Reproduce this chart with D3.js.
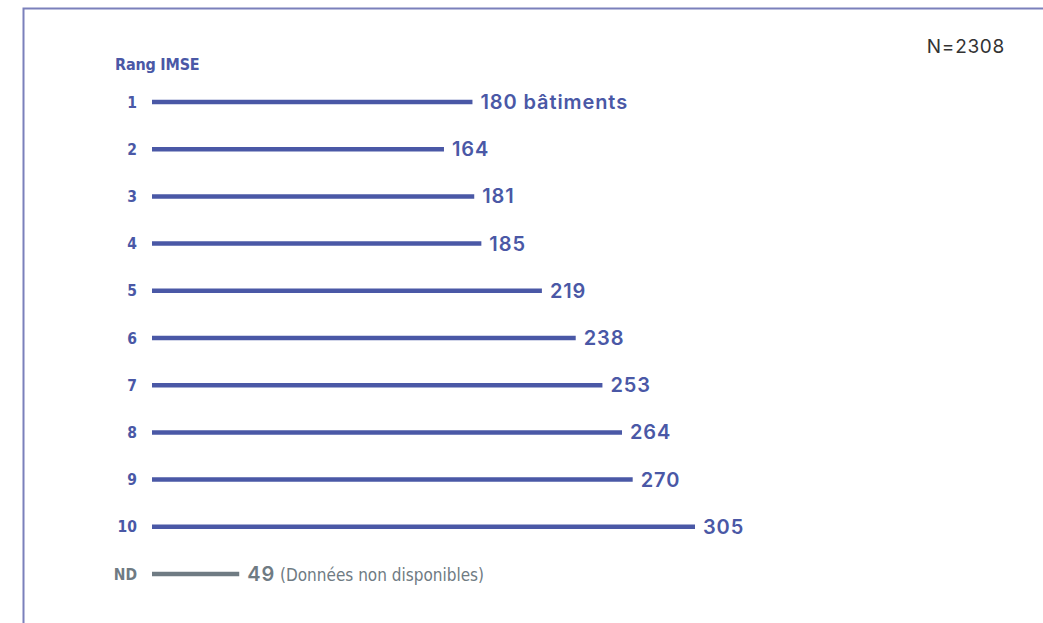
<!DOCTYPE html>
<html><head><meta charset="utf-8">
<script src="https://cdn.jsdelivr.net/npm/d3@7"></script>
<style>body{margin:0;background:#fff;}</style>
</head><body>
<svg id="c" width="1043" height="623"></svg>
<script>
const categories = ["1","2","3","4","5","6","7","8","9","10","ND"];
const values = [180,164,181,185,219,238,253,264,270,305,49];
const valueLabels = ["180 bâtiments","164","181","185","219","238","253","264","270","305","49"];
const totalLabel = "N=2308";
const axisTitle = "Rang IMSE";
const ndNote = "(Données non disponibles)";

const svg = d3.select("#c");
const blue = "#4a58a6", gray = "#6f7b83";
const cond = "'DejaVu Sans Condensed','Liberation Sans Narrow',sans-serif";

// frame
svg.append("path").attr("d","M23.5,623 V8.5 H1043").attr("fill","none").attr("stroke","#7b80bb").attr("stroke-width",2);

const x = d3.scaleLinear().domain([0,305]).range([152,695]);
const y = d3.scalePoint().domain(categories).range([102,574]);

svg.append("text").attr("x",115).attr("y",70).text(axisTitle)
  .attr("font-family",cond).attr("font-weight","bold").attr("font-size",16).attr("fill",blue).attr("letter-spacing",-0.2);
svg.append("text").attr("x",1005).attr("y",53).attr("text-anchor","end").text(totalLabel)
  .attr("font-family","Inter, sans-serif").attr("font-size",19).attr("letter-spacing",0.7).attr("fill","#333");

const g = svg.selectAll("g.row").data(categories).join("g").attr("class","row");
g.append("line").attr("x1",x(0)).attr("x2",(d,i)=>x(values[i]))
  .attr("y1",d=>y(d)).attr("y2",d=>y(d))
  .attr("stroke",(d)=>d==="ND"?gray:blue).attr("stroke-width",4.5);
g.append("text").attr("x",137).attr("y",d=>y(d)+5.5).attr("text-anchor","end").text(d=>d)
  .attr("font-family",cond).attr("font-weight","bold").attr("font-size",15.5)
  .attr("fill",d=>d==="ND"?gray:blue);
const lab = g.append("text").attr("x",(d,i)=>x(values[i])+8).attr("y",d=>y(d)+7)
  .attr("font-family","Inter, sans-serif").attr("font-weight",600).attr("font-size",20)
  .attr("letter-spacing",0.9)
  .attr("fill",d=>d==="ND"?gray:blue);
lab.append("tspan").text((d,i)=>valueLabels[i]);
lab.filter(d=>d==="ND").append("tspan").text(" "+ndNote)
  .attr("font-family",cond).attr("font-weight","normal").attr("font-size",17).attr("letter-spacing",0);
</script>
</body></html>
